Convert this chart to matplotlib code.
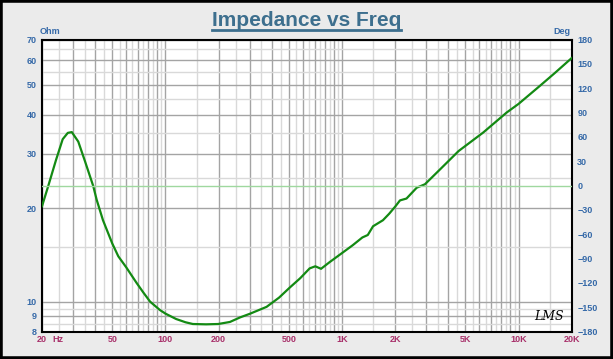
#! usr/bin/env python3

import numpy as np
import matplotlib
matplotlib.use("Agg")
import matplotlib.pyplot as plt
from matplotlib.ticker import FixedLocator, NullFormatter, FuncFormatter
from matplotlib.lines import Line2D
from matplotlib.patches import Rectangle

#	impedance curve
freq = [20, 21.7, 24, 26.2, 28, 29.5, 32.1, 35, 39, 40.8, 44.3, 50, 54.1, 60,
        68.6, 75, 81.9, 93, 100, 115, 130, 143, 170, 199, 232, 264, 301, 374,
        440, 506, 580, 656, 706, 761, 850, 1027, 1150, 1304, 1400, 1500, 1706,
        1850, 2009, 2130, 2320, 2650, 2950, 3500, 4580, 6310, 8560, 10000,
        13200, 16000, 20000]
ohm = [20.3, 23.6, 28.6, 33.4, 35.0, 35.2, 32.8, 28.4, 23.6, 21.3, 18.3, 15.4,
       14.0, 12.9, 11.5, 10.7, 10.0, 9.4, 9.15, 8.79, 8.58, 8.47, 8.45, 8.47,
       8.6, 8.89, 9.14, 9.62, 10.3, 11.1, 11.9, 12.8, 13.0, 12.76, 13.4, 14.5,
       15.2, 16.1, 16.4, 17.5, 18.3, 19.2, 20.3, 21.2, 21.5, 23.3, 23.9, 26.3,
       30.6, 35.1, 40.7, 43.4, 49.6, 54.5, 61.0]
phase_freq = [20, 20000]
phase_deg = [0, 0]

x_labels = {20: "20", 50: "50", 100: "100", 200: "200", 500: "500",
            1000: "1K", 2000: "2K", 5000: "5K", 10000: "10K", 20000: "20K"}
y_ticks = [8, 9, 10, 20, 30, 40, 50, 60, 70]
y_minor = [8.5, 9.5, 15, 25, 35, 45, 55, 65]
deg_ticks = list(range(-180, 181, 30))

blue = '#3569a8'
maroon = '#a8306a'

fig = plt.figure(figsize=(6.13, 3.59), dpi=100, facecolor='#ebebeb')
ax = fig.add_axes([42/613, 1 - 331.7/359, (571.7-42)/613, (331.7-39.5)/359])
ax.set_facecolor('white')
ax.set_xscale('log')
ax.set_yscale('log')
ax.set_xlim(20, 20000)
ax.set_ylim(8, 70)

#	grid lines, dark at 1..9 x decade, light at the halves
x_major = []
x_minor = []
for dec in [10, 100, 1000, 10000]:
    for k in range(1, 10):
        if 20 <= k*dec <= 20000:
            x_major.append(k*dec)
        if 20 <= (k+0.5)*dec <= 20000:
            x_minor.append((k+0.5)*dec)
ax.xaxis.set_major_locator(FixedLocator(x_major))
ax.xaxis.set_minor_locator(FixedLocator(x_minor))
ax.xaxis.set_major_formatter(FuncFormatter(lambda v, p: x_labels.get(int(round(v)), "")))
ax.xaxis.set_minor_formatter(NullFormatter())
ax.yaxis.set_major_locator(FixedLocator(y_ticks))
ax.yaxis.set_minor_locator(FixedLocator(y_minor))
ax.yaxis.set_major_formatter(FuncFormatter(lambda v, p: "%d" % round(v)))
ax.yaxis.set_minor_formatter(NullFormatter())

ax.grid(True, which='major', color='#a4a4a4', lw=1.0)
ax.grid(True, which='minor', color='#d9d9d9', lw=1.0)
ax.set_axisbelow(True)
ax.tick_params(which='both', length=0)
ax.tick_params(axis='x', pad=2.5, labelsize=6.5, labelcolor=maroon)
ax.tick_params(axis='y', pad=4, labelsize=6.5, labelcolor=blue)
for lab in ax.get_xticklabels() + ax.get_yticklabels():
    lab.set_fontweight('bold')
    lab.set_family('Liberation Sans')
for sp in ax.spines.values():
    sp.set_color('black')
    sp.set_linewidth(1.5)

#	phase on the right axis
ax2 = ax.twinx()
ax2.set_ylim(-180, 180)
ax2.set_yticks(deg_ticks)
ax2.tick_params(length=0, pad=4, labelsize=6.5, labelcolor=blue)
for lab in ax2.get_yticklabels():
    lab.set_fontweight('bold')
    lab.set_family('Liberation Sans')
for sp in ax2.spines.values():
    sp.set_visible(False)
ax2.plot(phase_freq, phase_deg, color='#9fd89f', lw=1.0)

ax.plot(freq, ohm, color='#138a13', lw=1.6, zorder=5)

ax.text(-0.005, 1.012, "Ohm", transform=ax.transAxes, fontsize=6.5, fontweight='bold',
        color=blue, family='Liberation Sans', ha='left', va='bottom')
ax.text(0.998, 1.012, "Deg", transform=ax.transAxes, fontsize=6.5, fontweight='bold',
        color=blue, family='Liberation Sans', ha='right', va='bottom')
ax.text(52/613, 1 - 339/359, "Hz", transform=fig.transFigure, fontsize=6.5, fontweight='bold',
        color=maroon, family='Liberation Sans', ha='left', va='center')
ax.text(0.985, 0.03, "LMS", transform=ax.transAxes, fontsize=9, style='italic',
        family='DejaVu Serif', color='black', ha='right', va='bottom')

title = fig.text(0.5, 1 - 26/359, "Impedance vs Freq", fontsize=15, fontweight='bold',
                 color='#3d6f8e', family='Liberation Sans', ha='center', va='baseline')
fig.canvas.draw()
bb = title.get_window_extent().transformed(fig.transFigure.inverted())
fig.add_artist(Line2D([bb.x0, bb.x1], [1 - 30/359, 1 - 30/359], color='#3d6f8e', lw=2.0))

fig.add_artist(Rectangle((0, 0), 1, 1, transform=fig.transFigure, fill=False,
                         edgecolor='black', lw=4))

fig.savefig('out.png', dpi=100, facecolor=fig.get_facecolor())
